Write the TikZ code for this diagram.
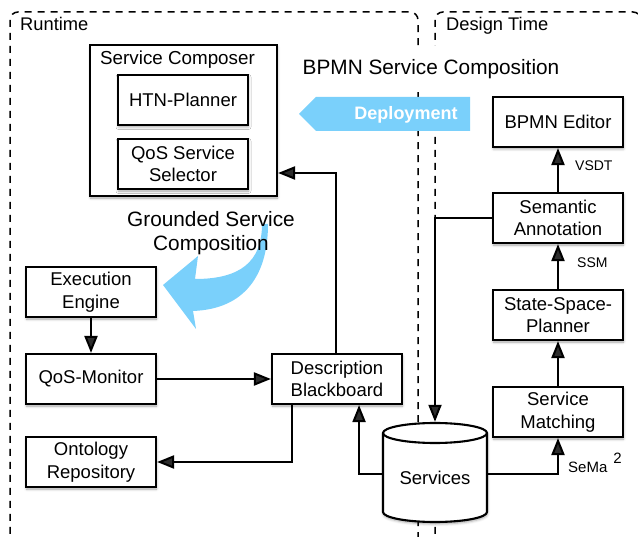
\documentclass[tikz,border=0pt]{standalone}
\usepackage{fontspec}
\setmainfont{Liberation Sans}
\usetikzlibrary{arrows.meta,shadows.blur}
\definecolor{flowblue}{RGB}{122,208,251}
\begin{document}
\begin{tikzpicture}[x=1pt,y=-1pt,
  dashbox/.style={draw, line width=1.5pt, dash pattern=on 7pt off 6pt, rounded corners=8pt},
  softshadow/.style={blur shadow={shadow xshift=0.5pt, shadow yshift=-2pt, shadow blur radius=2.5pt, shadow opacity=35}},
  procbox/.style={draw, line width=2.1pt, fill=white, minimum width=130pt, minimum height=50pt,
    inner sep=0pt, align=center, font=\fontsize{18.5}{22.5}\selectfont, softshadow},
  conn/.style={line width=2pt, -{Triangle[length=17pt,width=13pt]}},
  big/.style={font=\fontsize{20.8}{24}\selectfont, inner sep=0pt},
  mid/.style={font=\fontsize{18.3}{22}\selectfont, inner sep=0pt},
  small/.style={font=\fontsize{14}{16}\selectfont, inner sep=0pt},
]
\useasboundingbox (0,0) rectangle (638,537);
\clip (0,0) rectangle (638,537);

% runtime and design-time regions
\draw[dashbox] (10,560) -- (10,12) -- (418,12) -- (418,560);
\draw[dashbox] (435,560) -- (435,12) -- (641,12) -- (641,560);
\node[mid, anchor=base west] (rt) at (20,31) {Runtime};
\node[mid, anchor=base west] (dt) at (446,31) {Design Time};

% headline across both regions
\node[big, fill=white, minimum height=46pt, inner xsep=2pt] (bsc) at (431,69) {BPMN Service Composition};

% deployment arrow
\fill[flowblue] (299,114) -- (316,97) -- (470,97) -- (470,131) -- (316,131) -- cycle;
\node[font=\fontsize{18}{20}\selectfont\bfseries, text=white, inner sep=0pt] (dep) at (406,115) {Deployment};

% curved arrow for the grounded composition
\fill[flowblue] (262,224) -- (268,224)
  .. controls (268,275) and (245,309) .. (193,311)
  -- (196,329) -- (163,285) -- (198,256) -- (195,279)
  .. controls (240,279) and (262,262) .. (262,224) -- cycle;
\node[big, align=center, anchor=north] (gsc) at (211,211) {Grounded Service\\Composition};

% service composer
\node[procbox, minimum width=187pt, minimum height=151pt] (comp) at (183.5,120.5) {};
\node[mid, font=\fontsize{18.8}{22}\selectfont, anchor=base] (comptitle) at (177.5,65) {Service Composer};
\node[procbox, softshadow/.style={}] (htn) at (183,100) {HTN-Planner};
\node[procbox] (qsel) at (183,164) {QoS Service\\Selector};

% runtime components
\node[procbox] (exe) at (91,292) {Execution\\Engine};
\node[procbox] (qos) at (91,379) {QoS-Monitor};
\node[procbox] (onto) at (91,462) {Ontology\\Repository};
\node[procbox] (db) at (337,379) {Description\\Blackboard};

% design-time components
\node[procbox] (be) at (558,122) {BPMN Editor};
\node[procbox] (sa) at (558,218) {Semantic\\Annotation};
\node[procbox] (ssp) at (558,315) {State-Space-\\Planner};
\node[procbox] (sm) at (558,412) {Service\\Matching};

% services repository (cylinder)
\path[draw, line width=2.1pt, fill=white, softshadow]
  (383,433) -- (383,512) arc[start angle=180, end angle=360, x radius=52pt, y radius=10pt]
  -- (487,433) arc[start angle=0, end angle=180, x radius=52pt, y radius=10pt] -- cycle;
\draw[line width=2.1pt] (383,433) arc[start angle=180, end angle=360, x radius=52pt, y radius=10pt];
\node[minimum width=104pt, minimum height=99pt, inner sep=0pt] (svc) at (435,472.5) {};
\node[font=\fontsize{18.5}{22.5}\selectfont, inner sep=0pt] (svclabel) at (435,478) {Services};

% connectors
\draw[conn] (exe) -- (qos);
\draw[conn] (qos) -- (db);
\coordinate (dbup) at (336,173);
\draw[conn] (db.north -| dbup) -- (dbup) -- (comp.east |- dbup);
\draw[conn] ([xshift=21pt]db.south west) |- (onto.east);
\draw[conn] ([yshift=-1.5pt]svc.west) -| ([xshift=-44pt]db.south east);
\draw[conn] ([yshift=-1.5pt]svc.east) -| (sm.south);
\draw[conn] (sa.west) -| ([yshift=1pt]svc.north);
\draw[conn] (sm) -- (ssp);
\draw[conn] (ssp) -- (sa);
\draw[conn] (sa) -- (be);

% connector labels
\node[small, anchor=base west] (vsdt) at (575,171) {VSDT};
\node[small, anchor=base west] (ssm) at (577,268) {SSM};
\node[small, font=\fontsize{15}{17}\selectfont, anchor=base west] (sema) at (568,473) {SeMa\hspace{6pt}\raisebox{9pt}{2}};
\end{tikzpicture}
\end{document}
